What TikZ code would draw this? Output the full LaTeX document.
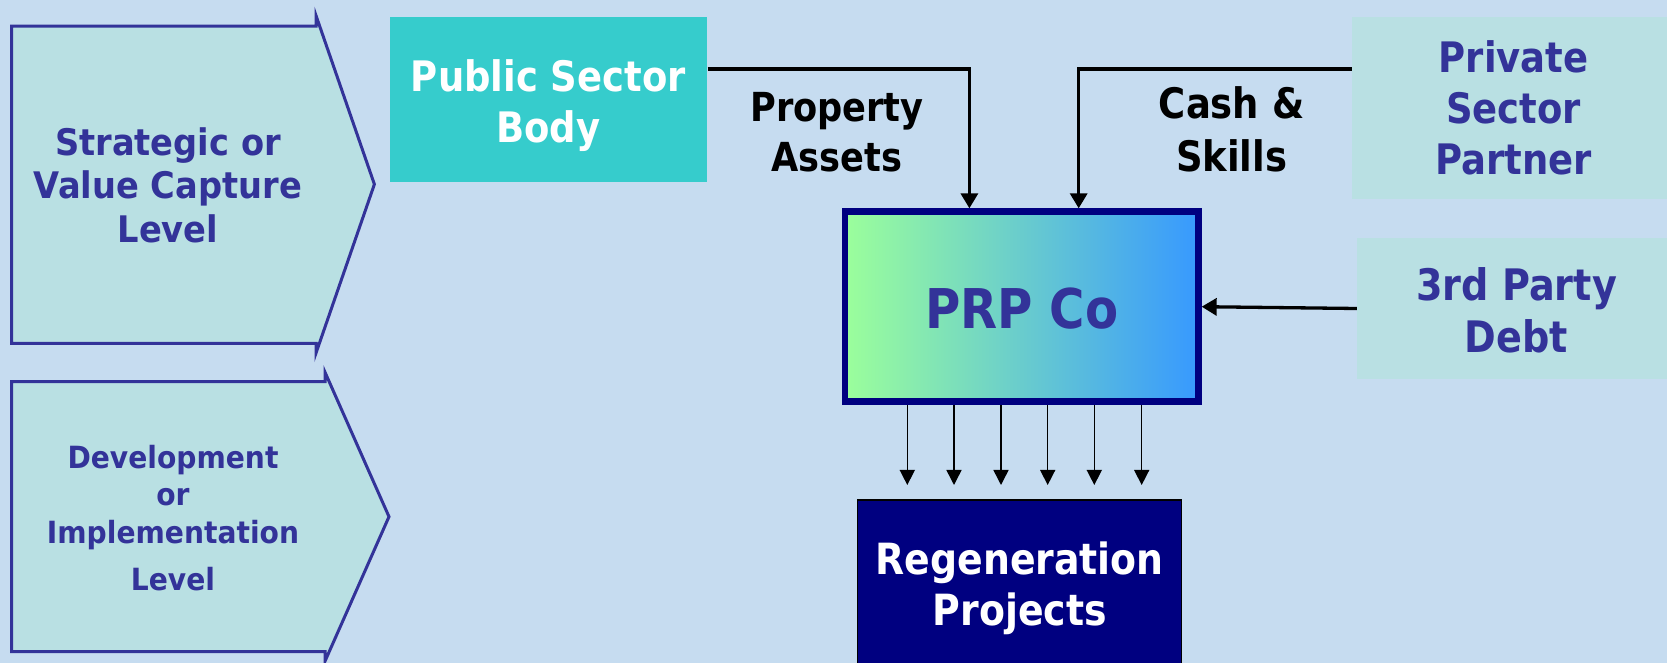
\documentclass[tikz,border=0pt]{standalone}
\usepackage{fontspec}
\usetikzlibrary{arrows.meta}
\newfontfamily\lvlfont{DejaVu Sans}[FakeStretch=0.92]
\newfontfamily\boxfont{DejaVu Sans}[FakeStretch=0.88]
\definecolor{bgblue}{RGB}{198,220,240}
\definecolor{lvlfill}{RGB}{185,224,227}
\definecolor{lvlborder}{RGB}{51,51,153}
\definecolor{txtblue}{RGB}{51,51,153}
\definecolor{pubfill}{RGB}{54,204,204}
\definecolor{prpborder}{RGB}{0,0,128}
\definecolor{regfill}{RGB}{0,0,128}
\definecolor{gradl}{RGB}{155,255,155}
\definecolor{gradm}{RGB}{122,220,200}
\definecolor{gradr}{RGB}{55,153,255}
\begin{document}
\begin{tikzpicture}[x=0.5pt,y=-0.5pt,
  lvlshape/.style={draw=lvlborder, fill=lvlfill, line width=1.5pt, line join=miter, miter limit=20},
  lvltext/.style={text=txtblue, align=center, inner sep=0pt},
  boxtext/.style={align=center, inner sep=0pt},
  thickarrow/.style={draw=black, line width=1.65pt, -{Triangle[length=7.5pt,width=8.5pt]}},
  thinarrow/.style={draw=black, line width=0.75pt, -{Triangle[length=7.5pt,width=7.5pt]}},
  sidebox/.style={fill=lvlfill, text=txtblue, boxtext},
]
\useasboundingbox (0,0) rectangle (1667,663);
\clip (0,0) rectangle (1667,663);
\fill[bgblue] (0,0) rectangle (1667,663);

% level arrows
\draw[lvlshape] (11.5,26.2) -- (316,26.2) -- (316,15.5) -- (374.4,184.3) -- (316,353.1) -- (316,343.5) -- (11.5,343.5) -- cycle;
\node[lvltext, font=\lvlfont\bfseries\fontsize{18.3}{21.8}\selectfont] (strat) at (168,185.3) {Strategic or\\Value Capture\\Level};

\draw[lvlshape] (11.5,381.7) -- (325,381.7) -- (325,372.2) -- (389,516.7) -- (325,661.2) -- (325,651.7) -- (11.5,651.7) -- cycle;
\node[lvltext, font=\lvlfont\bfseries\fontsize{15.3}{18.75}\selectfont] (dev) at (173,517.9) {Development\\or\\Implementation\\[5pt]Level};

% boxes
\node[boxtext, fill=pubfill, text=white, minimum width=158.8pt, minimum height=82.5pt,
      font=\boxfont\bfseries\fontsize{21}{25.5}\selectfont] (pub) at (548.4,99.2) {\rule{0pt}{22pt}Public Sector\\Body};
\node[sidebox, minimum width=161.4pt, minimum height=90.85pt,
      font=\boxfont\bfseries\fontsize{21}{25.5}\selectfont] (priv) at (1513.6,108.15) {Private\\Sector\\Partner};
\node[sidebox, minimum width=159.2pt, minimum height=70.8pt,
      font=\boxfont\bfseries\fontsize{21.7}{25.85}\selectfont] (debt) at (1516.5,308.5) {\rule{0pt}{18.5pt}3rd Party\\Debt};
\node[boxtext, draw=prpborder, line width=3.35pt, left color=gradl, middle color=gradm, right color=gradr,
      text=txtblue, minimum width=176.65pt, minimum height=95pt,
      font=\boxfont\bfseries\fontsize{27.4}{33}\selectfont] (prp) at (1021.65,306.7) {\rule{0pt}{22.5pt}PRP Co};
\node[boxtext, draw=black, line width=0.6pt, fill=regfill, text=white, minimum width=162pt, minimum height=88.3pt,
      font=\boxfont\bfseries\fontsize{21.5}{25.5}\selectfont] (regen) at (1019.7,588.3) {Regeneration\\Projects};

% labels
\node[boxtext, font=\boxfont\bfseries\fontsize{20}{25}\selectfont] (prop) at (837,132.1) {Property\\Assets};
\node[boxtext, font=\boxfont\bfseries\fontsize{21}{26.3}\selectfont] (cash) at (1231.6,129.4) {Cash \&\\Skills};

% connectors
\coordinate (pa) at (969.4,69);
\coordinate (ca) at (1078.7,69);
\draw[thickarrow] (pa -| pub.east) -- (pa) -- (pa |- prp.north);
\draw[thickarrow] (ca -| priv.west) -- (ca) -- (ca |- prp.north);
\draw[thickarrow] (debt.west) -- (prp.east);
\foreach \bx [count=\i] in {907.3,954,1001,1047.7,1094.3,1141.7} {
  \coordinate (bt\i) at (\bx,485);
  \draw[thinarrow] (bt\i |- prp.south) -- (bt\i);
}
\end{tikzpicture}
\end{document}
